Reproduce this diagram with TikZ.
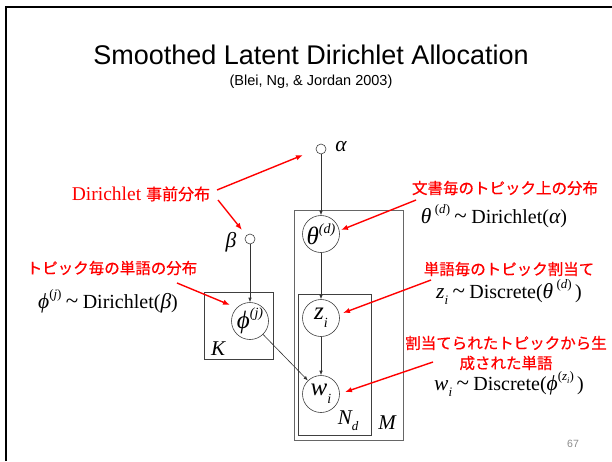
\documentclass[tikz,border=0pt]{standalone}
\usepackage{fontspec}
\setmainfont{Liberation Serif}
\newfontfamily\arialf{Liberation Sans}
\newfontfamily\cjkf[FakeBold=0.6]{Noto Sans CJK JP}
\usetikzlibrary{arrows.meta}
\newcommand{\supx}[1]{\raisebox{0.5em}{\fontsize{13}{13}\selectfont #1}}
\newcommand{\supc}[1]{\raisebox{0.45em}{\fontsize{14}{14}\selectfont #1}}
\newcommand{\subx}[1]{\raisebox{-0.3em}{\fontsize{13}{13}\selectfont #1}}
\newcommand{\subc}[1]{\raisebox{-0.3em}{\fontsize{14}{14}\selectfont #1}}
\newcommand{\subxx}[1]{\raisebox{-0.25em}{\fontsize{8.5}{8.5}\selectfont #1}}
\newcommand{\gk}[1]{{\fontsize{21.5}{21.5}\selectfont\itshape #1}}
\newcommand{\tl}{\hspace{0.22em}{\fontsize{23}{20}\selectfont\textasciitilde}\hspace{0.22em}}
\begin{document}
\begin{tikzpicture}[x=1pt,y=-1pt,
  gm/.style={circle,draw=black!75,line width=0.6pt,minimum size=37pt,inner sep=0pt,font=\fontsize{25}{25}\selectfont\itshape},
  hyper/.style={circle,draw=black!75,line width=0.6pt,minimum size=10pt,inner sep=0pt},
  plate/.style={draw=black!75,line width=0.6pt,inner sep=0pt,anchor=north west},
  edge/.style={draw=black!80,line width=0.6pt,-{Latex[length=4.5pt,width=3.5pt]}},
  redarr/.style={draw=red,line width=1.4pt,-{Latex[length=7pt,width=5.5pt]}},
  redjp/.style={text=red,font=\cjkf\fontsize{15.5}{20}\selectfont,inner sep=0pt},
  frm/.style={font=\fontsize{20}{20}\selectfont,inner sep=0pt,anchor=base},
  lbl/.style={font=\fontsize{20}{20}\selectfont\itshape,inner sep=0pt,anchor=base},
]
\useasboundingbox (0,0) rectangle (612,461);
\fill[white] (0,0) rectangle (612,461);
\draw[line width=2.2pt] (6,461) -- (6,7) -- (612,7);

\node[anchor=base,font=\arialf\fontsize{27}{27}\selectfont,inner sep=0pt] (title) at (311,64) {Smoothed Latent Dirichlet Allocation};
\node[anchor=base,font=\arialf\fontsize{14.5}{14.5}\selectfont,inner sep=0pt] (sub) at (311,85) {(Blei, Ng, \& Jordan 2003)};

% plates
\node[plate,draw=black!60,line width=0.9pt,minimum width=109pt,minimum height=230pt] (Mplate) at (294,210) {};
\node[plate,minimum width=73pt,minimum height=141pt] (Nplate) at (298,294) {};
\node[plate,minimum width=69pt,minimum height=67pt] (Kplate) at (204,292) {};
\node[lbl,font=\fontsize{21}{21}\selectfont\itshape] (Klab) at (218,355) {K};
\node[lbl,font=\fontsize{21}{21}\selectfont\itshape] (Mlab) at (387,429) {M};
\node[lbl,font=\fontsize{21}{21}\selectfont\itshape] (Nlab) at (348,424) {N\subx{d}};

% variables
\node[hyper] (alpha) at (321,149) {};
\node[hyper] (beta) at (250,239) {};
\node[lbl] (alab) at (341,151) {\gk{α}};
\node[lbl] (blab) at (231,247) {\gk{β}};
\node[gm] (theta) at (321,234) {θ\supc{(d)}};
\node[gm] (z) at (321,318) {z\subc{i}};
\node[gm] (w) at (321,394) {w\subc{i}};
\node[gm] (phi) at (250,321) {ϕ\supc{(j)}};

\draw[edge] (alpha) -- (theta);
\draw[edge] (beta) -- (phi);
\draw[edge] (theta) -- (z);
\draw[edge] (z) -- (w);
\draw[edge] (phi) -- (w);

% formulas
\node[frm] (fphi) at (108,308) {\gk{ϕ}\supx{(\textit{j})}\tl Dirichlet(\gk{β})};
\node[frm] (ftheta) at (494,223) {\gk{θ}\,\supx{(\textit{d})}\tl Dirichlet(\gk{α})};
\node[frm] (fz) at (509,298) {\gk{z}\subx{\textit{i}}\tl Discrete(\gk{θ}\,\supx{(\textit{d})}\,)};
\node[frm] (fw) at (509,390) {\gk{w}\subx{\textit{i}}\tl Discrete(\gk{ϕ}\supx{(\textit{z}\subxx{\textit{i}})}\,)};

% red labels
\node[anchor=base,text=red,inner sep=0pt] (ldir) at (141,200) {\fontsize{19.5}{20}\selectfont Dirichlet {\cjkf\fontsize{16}{16}\selectfont 事前分布}};
\node[redjp] (lphi) at (112,268) {トピック毎の単語の分布};
\node[redjp] (ltheta) at (505,188) {文書毎のトピック上の分布};
\node[redjp] (lz) at (509,269) {単語毎のトピック割当て};
\node[redjp,align=center] (lw) at (506,353) {割当てられたトピックから生\\成された単語};

% red arrows
\coordinate (a1s) at (217,190); \coordinate (a1e) at (303,155);
\coordinate (a2s) at (218,200); \coordinate (a2e) at (242,230);
\coordinate (a3s) at (177,283); \coordinate (a3e) at (230,305);
\coordinate (a4s) at (416,200); \coordinate (a4e) at (341,230);
\coordinate (a5s) at (431,280); \coordinate (a5e) at (343,313);
\coordinate (a6s) at (433,362); \coordinate (a6e) at (345,392);
\draw[redarr] (a1s) -- (a1e);
\draw[redarr] (a2s) -- (a2e);
\draw[redarr] (a3s) -- (a3e);
\draw[redarr] (a4s) -- (a4e);
\draw[redarr] (a5s) -- (a5e);
\draw[redarr] (a6s) -- (a6e);

\node[anchor=base,font=\arialf\fontsize{10.5}{10.5}\selectfont,text=black!45,inner sep=0pt] (pg) at (573,447) {67};
\end{tikzpicture}
\end{document}
